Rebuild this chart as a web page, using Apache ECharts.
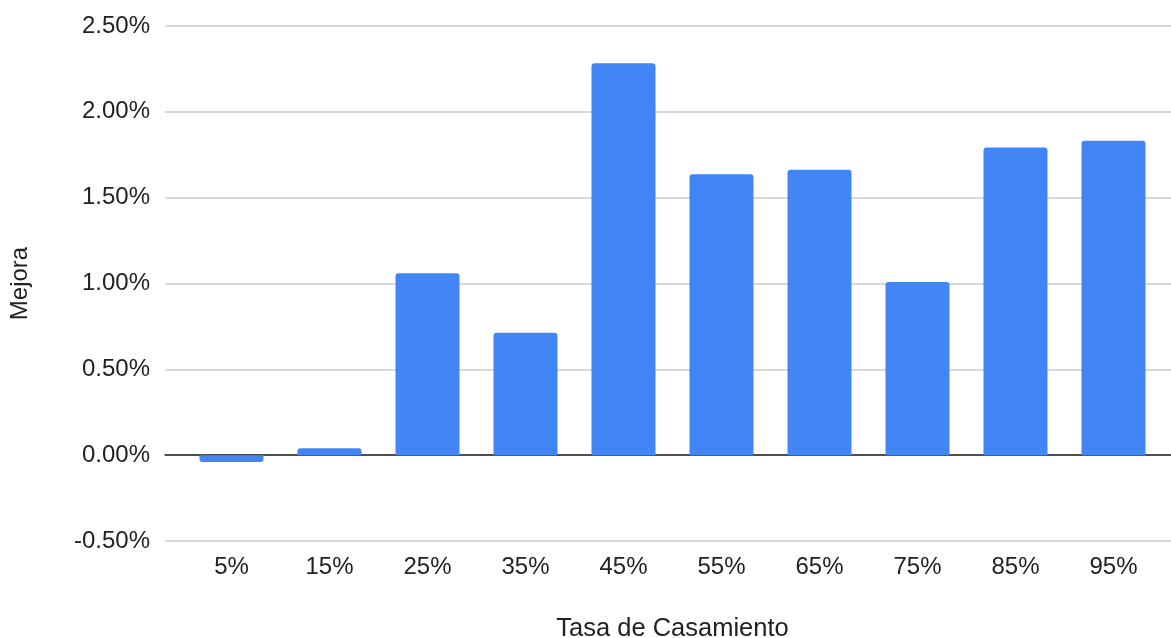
<!DOCTYPE html>
<html>
<head>
<meta charset="utf-8">
<script src="https://cdn.jsdelivr.net/npm/echarts@6/dist/echarts.min.js"></script>
<style>
  html, body { margin: 0; padding: 0; background: #ffffff; }
  #chart { width: 1171px; height: 638px; }
</style>
</head>
<body>
<div id="chart"></div>
<script>
// Improvement (percent) by marriage rate
const categories = ['5%', '15%', '25%', '35%', '45%', '55%', '65%', '75%', '85%', '95%'];
const mejora = [-0.04, 0.04, 1.06, 0.713, 2.283, 1.637, 1.662, 1.009, 1.792, 1.831];
const yMin = -0.5;
const yMax = 2.5;
const yStep = 0.5;

const FONT = 'Arial, "Liberation Sans", sans-serif';
const BLUE = '#4285f4';

const chart = echarts.init(document.getElementById('chart'));

const barData = mejora.map(v => ({
  value: v,
  itemStyle: { borderRadius: v >= 0 ? [3, 3, 0, 0] : [0, 0, 3, 3] }
}));

chart.setOption({
  animation: false,
  backgroundColor: '#ffffff',
  textStyle: { fontFamily: FONT },
  grid: [
    // frame grid: gridlines, y labels and the zero baseline
    { left: 165, right: 0, top: 26, bottom: 97, containLabel: false, outerBoundsMode: 'none' },
    // bar grid: the category band
    { left: 182.5, width: 980, top: 26, bottom: 97, containLabel: false, outerBoundsMode: 'none' }
  ],
  xAxis: [
    {
      gridIndex: 0, type: 'value', min: 0, max: 1,
      axisLine: { show: true, onZero: true, lineStyle: { color: '#222', width: 1.5 } },
      axisTick: { show: false }, axisLabel: { show: false }, splitLine: { show: false }
    },
    {
      gridIndex: 1, type: 'category', data: categories,
      axisLine: { show: false }, axisTick: { show: false },
      axisLabel: { fontSize: 24, color: '#222', margin: 14, fontFamily: FONT },
      name: 'Tasa de Casamiento', nameLocation: 'middle', nameGap: 75,
      nameTextStyle: { fontSize: 25.5, color: '#222', fontFamily: FONT }
    }
  ],
  yAxis: [
    {
      gridIndex: 0, type: 'value', min: yMin, max: yMax, interval: yStep,
      axisLine: { show: false }, axisTick: { show: false },
      axisLabel: {
        fontSize: 24, color: '#222', margin: 15, fontFamily: FONT,
        formatter: v => v.toFixed(2) + '%'
      },
      splitLine: { show: true, lineStyle: { color: '#cccccc', width: 1.5 } },
      name: 'Mejora', nameLocation: 'middle', nameGap: 133,
      nameTextStyle: { fontSize: 24, color: '#222', fontFamily: FONT }
    },
    {
      gridIndex: 1, type: 'value', min: yMin, max: yMax, interval: yStep,
      show: false, splitLine: { show: false }
    }
  ],
  series: [
    {
      type: 'bar',
      xAxisIndex: 1, yAxisIndex: 1,
      data: barData,
      barWidth: 64,
      itemStyle: { color: BLUE },
      z: 1
    }
  ]
});
</script>
</body>
</html>
